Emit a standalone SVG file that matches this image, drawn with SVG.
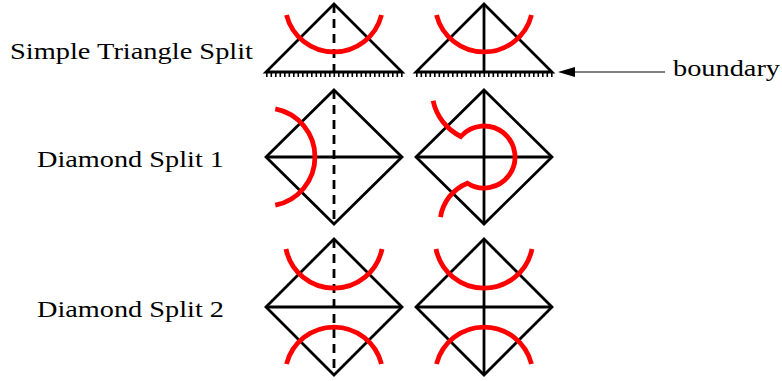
<svg xmlns="http://www.w3.org/2000/svg" width="782" height="381" viewBox="0 0 782 381">
<style>
.k{fill:none;stroke:#000;stroke-width:2.8;stroke-linejoin:miter}
.d{fill:none;stroke:#000;stroke-width:2.8;stroke-dasharray:9 6}
.r{fill:none;stroke:#f00;stroke-width:4.8}
.h{fill:none;stroke:#000;stroke-width:5;stroke-dasharray:1.6 2.9}
</style>
<rect width="782" height="381" fill="#fff"/>
<g id="labels" font-family="Liberation Serif, DejaVu Serif, serif" font-size="24" fill="#000">
<text x="10" y="59" textLength="243" lengthAdjust="spacingAndGlyphs">Simple Triangle Split</text>
<text x="37" y="167" textLength="187" lengthAdjust="spacingAndGlyphs">Diamond Split 1</text>
<text x="37" y="317" textLength="187" lengthAdjust="spacingAndGlyphs">Diamond Split 2</text>
<text x="673" y="76" textLength="107" lengthAdjust="spacingAndGlyphs">boundary</text>
</g>
<g id="tri1">
<polygon class="k" points="334,4 402,72 266,72"/>
<line class="h" x1="266" y1="74.5" x2="403" y2="74.5"/>
<line class="d" x1="334" y1="4" x2="334" y2="72"/>
<path class="r" d="M286.5 15 A49 49 0 0 0 381.5 15"/>
</g>
<g id="tri2">
<polygon class="k" points="484,4 552,72 416,72"/>
<line class="h" x1="416" y1="74.5" x2="553" y2="74.5"/>
<line class="k" x1="484" y1="4" x2="484" y2="72"/>
<path class="r" d="M436.5 15 A49 49 0 0 0 531.5 15"/>
</g>
<g id="dia1">
<polygon class="k" points="334,90 402,157 334,224 266,157"/>
<line class="k" x1="266" y1="157" x2="402" y2="157"/>
<line class="d" x1="334" y1="90" x2="334" y2="224"/>
<path class="r" d="M275.3 108.9 A49 49 0 0 1 275.3 205.1"/>
</g>
<g id="dia2">
<polygon class="k" points="484,90 552,157 484,224 416,157"/>
<line class="k" x1="416" y1="157" x2="552" y2="157"/>
<line class="k" x1="484" y1="90" x2="484" y2="224"/>
<path class="r" d="M433.1 100.8 A52 52 0 0 0 460.75 136.5 A31 31 0 1 1 467.4 183.2 A44 44 0 0 0 440.5 217.1"/>
</g>
<g id="dia3">
<polygon class="k" points="334,239 402,307 334,375 266,307"/>
<line class="k" x1="266" y1="307" x2="402" y2="307"/>
<line class="d" x1="334" y1="239" x2="334" y2="375"/>
<path class="r" d="M286 249 A49 49 0 0 0 382 249"/>
<path class="r" d="M286.5 364 A49 49 0 0 1 381.5 364"/>
</g>
<g id="dia4">
<polygon class="k" points="484,239 552,307 484,375 416,307"/>
<line class="k" x1="416" y1="307" x2="552" y2="307"/>
<line class="k" x1="484" y1="239" x2="484" y2="375"/>
<path class="r" d="M436 249 A49 49 0 0 0 532 249"/>
<path class="r" d="M436.5 364 A49 49 0 0 1 531.5 364"/>
</g>
<g id="connectors">
<line x1="573" y1="72" x2="665" y2="72" stroke="#000" stroke-width="1.1"/>
<polygon points="558,72 575,67 575,77" fill="#000"/>
</g>
</svg>
